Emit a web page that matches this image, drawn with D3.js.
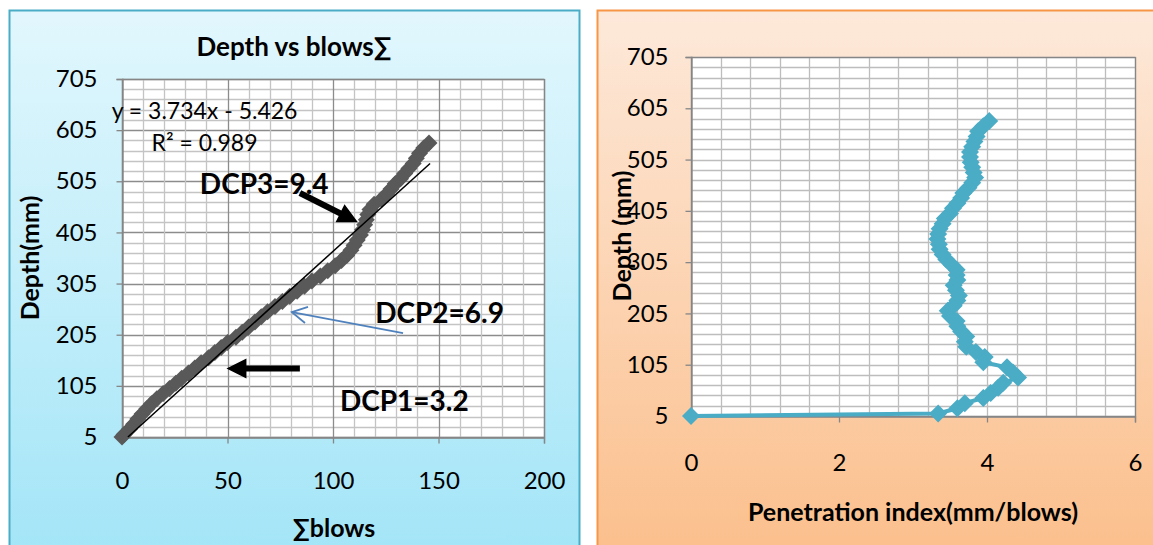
<!DOCTYPE html>
<html>
<head>
<meta charset="utf-8">
<script src="https://cdn.jsdelivr.net/npm/d3@7"></script>
<style>
  html, body { margin: 0; padding: 0; background: #ffffff; }
  svg { display: block; font-family: Lato, "Open Sans", sans-serif; }
</style>
</head>
<body>
<svg id="chart" width="1153" height="545"></svg>
<script>
// DCP test readings: depth (mm), cumulative blows and penetration index (mm/blow)
const depthMm = [5, 10, 20, 30, 40, 50, 60, 70, 80, 90, 100, 110, 120, 130, 140, 150, 160, 170, 180, 190,
  200, 210, 220, 230, 240, 250, 260, 270, 280, 290, 300, 310, 320, 330, 340, 350, 360, 370, 380, 390,
  400, 410, 420, 430, 440, 450, 460, 470, 480, 490, 500, 510, 520, 530, 540, 550, 560, 570, 580];
const cumBlows = [0, 1, 3.5, 5.5, 7.5, 9.5, 11.8, 14, 16.5, 19.5, 22.5, 25.5, 28.3, 31.5, 34.5, 37.5, 41, 44, 47, 50,
  54, 57, 60, 63, 66, 69, 72.5, 76, 79.5, 83, 86.5, 90, 94, 97.5, 101, 104, 106.5, 108.5, 110, 111.5,
  113, 114, 115, 115.8, 116.5, 117.5, 119.5, 123, 125.5, 127.5, 129.5, 132, 134, 136, 138, 139.5, 141, 143, 145.5];
const penIndex = [0, 3.34, 3.6, 3.7, 3.95, 4.05, 4.15, 4.22, 4.42, 4.35, 4.27, 3.95, 3.97, 3.85, 3.72, 3.7, 3.72, 3.65, 3.6, 3.59,
  3.5, 3.47, 3.55, 3.6, 3.62, 3.58, 3.55, 3.6, 3.59, 3.59, 3.52, 3.45, 3.4, 3.36, 3.35, 3.33, 3.34, 3.36, 3.4, 3.43,
  3.5, 3.54, 3.6, 3.65, 3.68, 3.75, 3.8, 3.84, 3.82, 3.8, 3.78, 3.77, 3.77, 3.8, 3.83, 3.86, 3.88, 3.95, 4.03];

// Linear trend of depth on cumulative blows
const trendSlope = 3.734;
const trendIntercept = -5.426;
const trendR2 = 0.989;
const trendMaxBlows = 146;

// Axis ticks
const depthTicks = [5, 105, 205, 305, 405, 505, 605, 705];
const blowTicks = [0, 50, 100, 150, 200];
const indexTicks = [0, 2, 4, 6];

// DCP layer annotations
const dcpLabels = ["DCP1=3.2", "DCP2=6.9", "DCP3=9.4"];

const svg = d3.select("#chart");
const defs = svg.append("defs");

function gradient(id, top, bottom) {
  const g = defs.append("linearGradient").attr("id", id)
    .attr("x1", 0).attr("y1", 0).attr("x2", 0).attr("y2", 1);
  g.append("stop").attr("offset", "0%").attr("stop-color", top);
  g.append("stop").attr("offset", "100%").attr("stop-color", bottom);
}
gradient("bgBlue", "#e2f7fd", "#a3e5f7");
gradient("bgPeach", "#fde9da", "#fbbf8c");

// panel backgrounds
svg.append("rect").attr("x", 9.5).attr("y", 10.5).attr("width", 570).attr("height", 545)
  .attr("fill", "url(#bgBlue)").attr("stroke", "#4bacc6").attr("stroke-width", 2);
svg.append("rect").attr("x", 597.5).attr("y", 10.5).attr("width", 570).attr("height", 545)
  .attr("fill", "url(#bgPeach)").attr("stroke", "#f79646").attr("stroke-width", 2);

const diamond = r => `M0,${-r}L${r},0L0,${r}L${-r},0Z`;

function drawFrame(g, x, y, xMinor, yMinor, xMajor, yMajorColor, xMajorColor, minorColor) {
  const [x0, x1] = x.range();
  const [y0, y1] = y.range();
  g.append("rect").attr("x", x0).attr("y", y1).attr("width", x1 - x0).attr("height", y0 - y1)
    .attr("fill", "#ffffff");
  g.append("g").selectAll("line").data(yMinor).join("line")
    .attr("x1", x0).attr("x2", x1)
    .attr("y1", d => Math.round(y(d)) + 0.5).attr("y2", d => Math.round(y(d)) + 0.5)
    .attr("stroke", d => depthTicks.includes(d) ? yMajorColor : minorColor).attr("stroke-width", 1.3);
  g.append("g").selectAll("line").data(xMinor).join("line")
    .attr("y1", y0).attr("y2", y1)
    .attr("x1", d => Math.round(x(d)) + 0.5).attr("x2", d => Math.round(x(d)) + 0.5)
    .attr("stroke", d => xMajor.includes(d) ? xMajorColor : minorColor).attr("stroke-width", 1.3);
  g.append("rect").attr("x", x0 + 0.5).attr("y", y1 + 0.5).attr("width", x1 - x0).attr("height", y0 - y1)
    .attr("fill", "none").attr("stroke", "#868686").attr("stroke-width", 1.3);
}

function styleAxis(sel) {
  sel.select(".domain").attr("stroke", "#868686").attr("stroke-width", 1.3);
  sel.selectAll(".tick line").attr("stroke", "#868686").attr("stroke-width", 1.3);
  sel.selectAll(".tick text").attr("fill", "#000").style("font-family", "Lato, sans-serif")
    .style("font-size", "24px");
}

/* ---------- left chart: depth vs cumulative blows ---------- */
const xL = d3.scaleLinear().domain([0, 200]).range([122, 544]);
const yL = d3.scaleLinear().domain([5, 705]).range([437, 79]);
const left = svg.append("g");
const minorBlows = d3.range(0, 201, 10);
const minorDepth = d3.range(5, 706, 20);
drawFrame(left, xL, yL, minorBlows, minorDepth, blowTicks, "#8c8c8c", "#8c8c8c", "#c4c4c4");

left.append("g").attr("transform", "translate(122.5,0)")
  .call(d3.axisLeft(yL).tickValues(depthTicks).tickSize(6).tickPadding(19).tickFormat(d3.format("d")))
  .call(styleAxis);
left.append("g").attr("transform", "translate(0,437.5)")
  .call(d3.axisBottom(xL).tickValues(blowTicks).tickSize(6).tickPadding(28).tickFormat(d3.format("d")))
  .call(styleAxis);

const leftPts = depthMm.map((d, i) => [cumBlows[i], d]);
left.append("path").datum(leftPts)
  .attr("fill", "none").attr("stroke", "#595959").attr("stroke-width", 4)
  .attr("d", d3.line().x(p => xL(p[0])).y(p => yL(p[1])));
left.append("g").selectAll("path").data(leftPts).join("path")
  .attr("transform", p => `translate(${xL(p[0])},${yL(p[1])})`)
  .attr("d", diamond(8.5)).attr("fill", "#595959");

// trendline, starting where it enters the plot floor
const trendStart = (5 - trendIntercept) / trendSlope;
left.append("line")
  .attr("x1", xL(trendStart)).attr("y1", yL(trendSlope * trendStart + trendIntercept))
  .attr("x2", xL(trendMaxBlows)).attr("y2", yL(trendSlope * trendMaxBlows + trendIntercept))
  .attr("stroke", "#000").attr("stroke-width", 1.5);

left.append("text").attr("x", xL(-4.9)).attr("y", yL(626))
  .style("font-size", "23px").text(`y = ${trendSlope}x - ${Math.abs(trendIntercept)}`);
left.append("text").attr("x", xL(14)).attr("y", yL(565))
  .style("font-size", "23px").text(`R² = ${trendR2}`);

left.append("text").attr("x", 294).attr("y", 56).attr("text-anchor", "middle")
  .style("font-size", "26px").style("font-weight", "bold").text("Depth vs blows∑");
left.append("text").attr("transform", "translate(39,258) rotate(-90)").attr("text-anchor", "middle")
  .style("font-size", "25px").style("font-weight", "bold").text("Depth(mm)");
left.append("text").attr("x", 334).attr("y", 537).attr("text-anchor", "middle")
  .style("font-size", "25px").style("font-weight", "bold").text("∑blows");

// DCP layer labels and arrows
const dcpStyle = s => s.style("font-size", "28px").style("font-weight", "bold");
left.append("text").attr("x", xL(103.3)).attr("y", yL(56)).call(dcpStyle).text(dcpLabels[0]);
left.append("text").attr("x", xL(120)).attr("y", yL(228)).call(dcpStyle).text(dcpLabels[1]);
left.append("text").attr("x", xL(36.9)).attr("y", yL(480)).call(dcpStyle).text(dcpLabels[2]);

function blockArrow(g, from, to, shaft, headLen, headHalf, color) {
  const [ax, ay] = from, [bx, by] = to;
  const len = Math.hypot(bx - ax, by - ay);
  const ang = Math.atan2(by - ay, bx - ax) * 180 / Math.PI;
  const p = [[0, -shaft / 2], [len - headLen, -shaft / 2], [len - headLen, -headHalf], [len, 0],
    [len - headLen, headHalf], [len - headLen, shaft / 2], [0, shaft / 2]];
  g.append("path").attr("transform", `translate(${ax},${ay}) rotate(${ang})`)
    .attr("d", "M" + p.join("L") + "Z").attr("fill", color);
}
blockArrow(left, [xL(84.3), yL(139)], [xL(49.5), yL(139)], 6, 20, 10, "#000");
blockArrow(left, [xL(84.3), yL(482)], [xL(111.8), yL(425)], 6, 20, 10, "#000");

// thin open arrow toward the middle layer
const a2from = [xL(133.2), yL(208)], a2to = [xL(80.5), yL(249)];
left.append("line").attr("x1", a2from[0]).attr("y1", a2from[1]).attr("x2", a2to[0]).attr("y2", a2to[1])
  .attr("stroke", "#4f81bd").attr("stroke-width", 1.8);
{
  const ang = Math.atan2(a2from[1] - a2to[1], a2from[0] - a2to[0]);
  const arm = 17, spread = 0.5;
  const p1 = [a2to[0] + arm * Math.cos(ang - spread), a2to[1] + arm * Math.sin(ang - spread)];
  const p2 = [a2to[0] + arm * Math.cos(ang + spread), a2to[1] + arm * Math.sin(ang + spread)];
  left.append("path").attr("d", `M${p1}L${a2to}L${p2}`).attr("fill", "none")
    .attr("stroke", "#4f81bd").attr("stroke-width", 1.8);
}

/* ---------- right chart: depth vs penetration index ---------- */
const xR = d3.scaleLinear().domain([0, 6]).range([691, 1135]);
const yR = d3.scaleLinear().domain([5, 705]).range([416, 57]);
const right = svg.append("g");
const minorIndex = d3.range(0, 15.5).map(i => +(i * 0.4).toFixed(1));
drawFrame(right, xR, yR, minorIndex, minorDepth, [], "#bdbdbd", "#bdbdbd", "#bdbdbd");

right.append("g").attr("transform", "translate(691.5,0)")
  .call(d3.axisLeft(yR).tickValues(depthTicks).tickSize(6).tickPadding(17).tickFormat(d3.format("d")))
  .call(styleAxis);
right.append("g").attr("transform", "translate(0,416.5)")
  .call(d3.axisBottom(xR).tickValues(indexTicks).tickSize(6).tickPadding(31).tickFormat(d3.format("d")))
  .call(styleAxis);

const rightPts = depthMm.map((d, i) => [penIndex[i], d]);
right.append("path").datum(rightPts)
  .attr("fill", "none").attr("stroke", "#4bacc6").attr("stroke-width", 4)
  .attr("d", d3.line().x(p => xR(p[0])).y(p => yR(p[1])));
right.append("g").selectAll("path").data(rightPts).join("path")
  .attr("transform", p => `translate(${xR(p[0])},${yR(p[1])})`)
  .attr("d", diamond(9)).attr("fill", "#4bacc6");

right.append("text").attr("transform", "translate(631,236) rotate(-90)").attr("text-anchor", "middle")
  .style("font-size", "25px").style("font-weight", "bold").text("Depth (mm)");
right.append("text").attr("x", 913).attr("y", 521).attr("text-anchor", "middle")
  .style("font-size", "25px").style("font-weight", "bold").text("Penetration index(mm/blows)");
</script>
</body>
</html>
